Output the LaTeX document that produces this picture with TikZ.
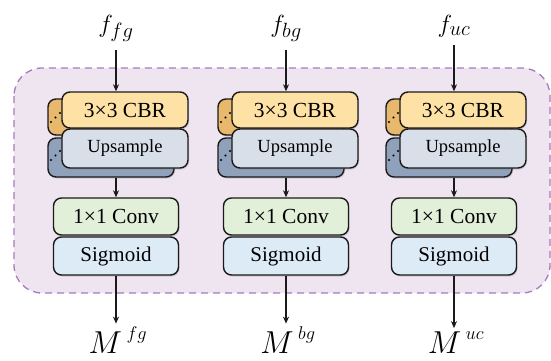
\documentclass[tikz,border=0pt]{standalone}
\usepackage{fontspec}
\setmainfont{Liberation Serif}
\usetikzlibrary{arrows.meta,shadows}
\definecolor{cbrfront}{HTML}{FDE1A5}
\definecolor{cbrback}{HTML}{E8B86C}
\definecolor{upfront}{HTML}{D8DFE9}
\definecolor{upback}{HTML}{8FA1BB}
\definecolor{convfill}{HTML}{E2F0D9}
\definecolor{sigfill}{HTML}{DDEBF7}
\definecolor{panelfill}{HTML}{EFE5F0}
\definecolor{paneledge}{HTML}{A77BBF}
\definecolor{ink}{HTML}{1A1A1A}
\tikzset{
  x=1bp, y=-1bp,
  block/.style={draw=ink, line width=1.4bp, rounded corners=8bp, inner sep=0pt,
    minimum width=126bp, text=black,
    drop shadow={shadow xshift=1bp, shadow yshift=-1.5bp, opacity=0.3}},
  layerbox/.style={block, minimum height=36bp, font=\fontsize{21.5bp}{24bp}\selectfont},
  upbox/.style={block, minimum height=39bp, font=\fontsize{18.5bp}{22bp}\selectfont},
  arr/.style={draw=ink, line width=1.2bp, -{Stealth[length=7bp,width=6bp]}},
  lbl/.style={inner sep=0pt, font=\fontsize{24.88pt}{28pt}\selectfont},
}
% output symbol: large M with a smaller superscript tag
\newcommand{\outsym}[1]{\scalebox{1.28}{$M^{\,\raisebox{1.5pt}{\fontsize{14pt}{16pt}\selectfont$#1$}}$}}
\begin{document}
\begin{tikzpicture}
  \useasboundingbox (0,0) rectangle (551,360);
  % shaded panel behind the three heads
  \draw[fill=panelfill, draw=paneledge, line width=1.3bp, dash pattern=on 7bp off 5bp,
        rounded corners=28bp] (14,68) rectangle (550,293);
  \foreach \cx/\t in {116/fg, 286/bg, 454/uc} {
    % stacked layers behind the front pair
    \node[layerbox, fill=cbrback] (cbrb\t) at (\cx-5,117) {};
    \node[upbox, fill=upback] (upb\t) at (\cx-5,157.5) {};
    \foreach \dx/\dy in {-65/122, -60.5/117.5, -56/113, -65/160, -60.5/155.5, -56/151}
      \fill[black] (\cx+\dx,\dy) circle (1.1bp);
    % front pair
    \node[layerbox, fill=cbrfront] (cbr\t) at (\cx+9,110) {3×3 CBR};
    \node[upbox, fill=upfront] (up\t) at (\cx+9,148.5) {Upsample};
    % output head
    \node[layerbox, minimum width=125bp, minimum height=37bp, fill=convfill] (conv\t) at (\cx,216.5) {1×1 Conv};
    \node[layerbox, minimum width=125bp, minimum height=38bp, fill=sigfill,
          font=\fontsize{21bp}{24bp}\selectfont] (sig\t) at (\cx,256) {Sigmoid};
    % labels
    \node[lbl, anchor=base] (in\t) at (\cx,32) {$f_{\t}$};
    \node[lbl, anchor=base] (out\t) at (\cx+2,353) {\outsym{\t}};
    % connectors
    \draw[arr] ([yshift=-8bp]in\t.south) -- (in\t.south |- cbr\t.north);
    \draw[arr] (conv\t.north |- upb\t.south) -- (conv\t.north);
    \draw[arr] (sig\t.south) -- ([yshift=3bp]out\t.north -| sig\t.south);
  }
\end{tikzpicture}
\end{document}
